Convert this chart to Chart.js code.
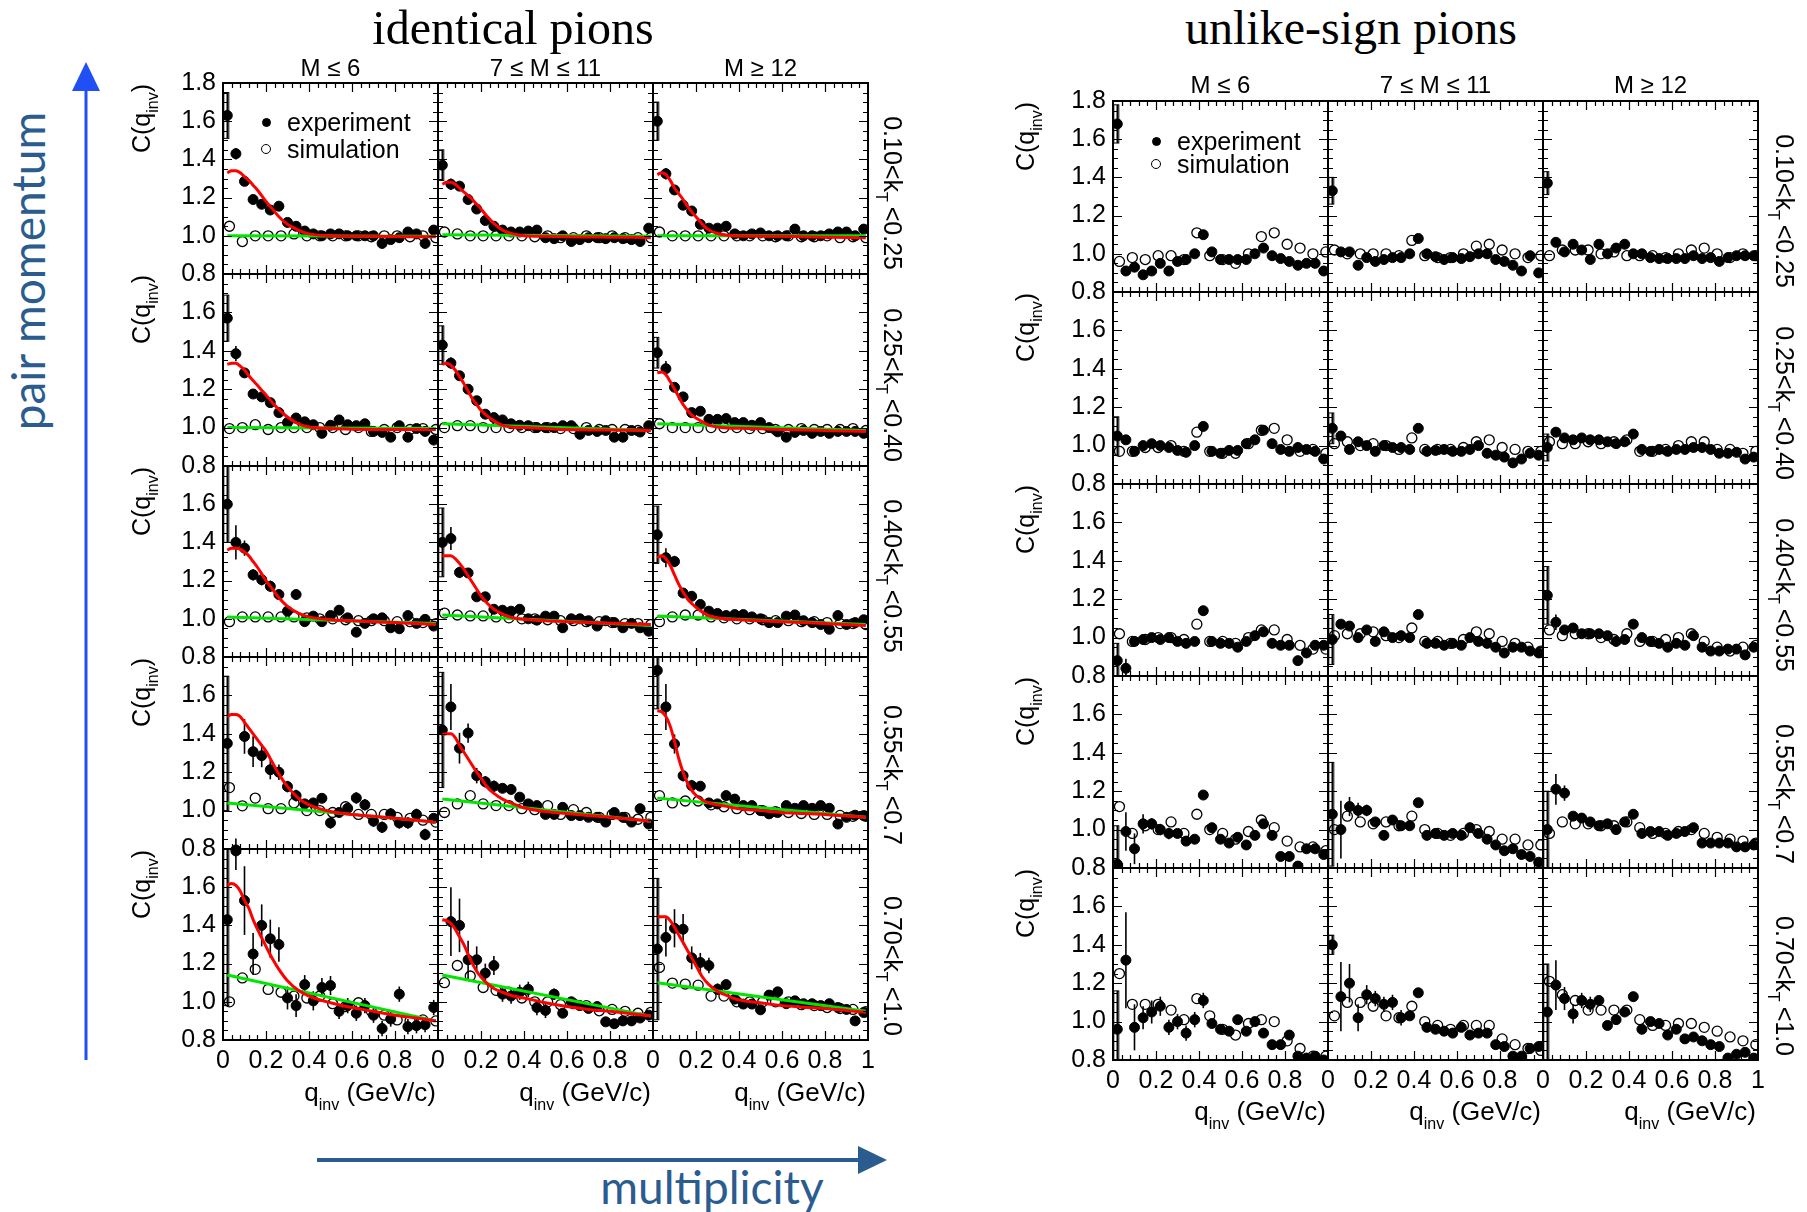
<!DOCTYPE html>
<html>
<head>
<meta charset="utf-8">
<script src="https://cdn.jsdelivr.net/npm/chart.js@4.4.1/dist/chart.umd.min.js"></script>
<style>
    body { margin: 0; background: #fff; width: 1807px; height: 1212px; overflow: hidden; position: relative;
           font-family: "Liberation Sans", Arial, sans-serif; }
    canvas { position: absolute; }
    .t { position: absolute; white-space: nowrap; color: #000; }
    .sb { position: relative; font-size: 16px; }
    .dot { position: absolute; border-radius: 50%; box-sizing: border-box; }
</style>
</head>
<body>
<svg width="1807" height="1212" style="position:absolute;left:0;top:0">
    <line x1="86" y1="1060" x2="86" y2="86" stroke="#1f4ff5" stroke-width="3"/>
    <polygon points="86,62 72,91 100,91" fill="#1f4ff5"/>
    <line x1="317" y1="1160" x2="862" y2="1160" stroke="#2b5c90" stroke-width="4"/>
    <polygon points="858,1146 887,1160 858,1174" fill="#2b5c90"/>
</svg>
<script>
// ============================================
// HBT correlation functions, identical vs unlike-sign pions
// ============================================

// ===== AXES / LABELS =====
const qExp = [0.02, 0.06, 0.10, 0.14, 0.18, 0.22, 0.26, 0.30, 0.34, 0.38, 0.42, 0.46, 0.50,
              0.54, 0.58, 0.62, 0.66, 0.70, 0.74, 0.78, 0.82, 0.86, 0.90, 0.94, 0.98];
const qSim = [0.03, 0.09, 0.15, 0.21, 0.27, 0.33, 0.39, 0.45, 0.51, 0.57, 0.63, 0.69, 0.75,
              0.81, 0.87, 0.93, 0.99];
const qFit = [0.02, 0.04, 0.06, 0.08, 0.10, 0.12, 0.14, 0.16, 0.18, 0.20, 0.23, 0.26, 0.30,
              0.35, 0.40, 0.50, 0.60, 0.70, 0.80, 0.90, 0.99];
const qLine = [0.02, 0.99];

const multClasses = ['M ≤ 6', '7 ≤ M ≤ 11', 'M ≥ 12'];
const ktBins = [['0.10', '0.25'], ['0.25', '0.40'], ['0.40', '0.55'], ['0.55', '0.7'], ['0.70', '1.0']];
const yTickText = ['0.8', '1.0', '1.2', '1.4', '1.6', '1.8'];
const xTickText = ['0', '0.2', '0.4', '0.6', '0.8', '1'];

// ===== IDENTICAL PIONS (rows: kT bins, cols: multiplicity) =====
const idExp = [
    [[1.63, 1.43, 1.285, 1.19, 1.165, 1.135, 1.155, 1.07, 1.05, 1.025, 1.01, 1.0, 1.01, 1.01, 1.0, 1.0, 1.0, 1.0, 0.96, 0.98, 0.99, 1.02, 1.01, 0.96, 1.03],
     [1.37, 1.27, 1.26, 1.19, 1.14, 1.08, 1.05, 1.03, 1.02, 1.02, 1.025, 1.03, 0.99, 0.985, 1.0, 0.97, 0.98, 0.99, 0.99, 0.985, 0.99, 0.985, 0.98, 0.97, 1.04],
     [1.60, 1.325, 1.24, 1.16, 1.13, 1.06, 1.04, 1.04, 1.05, 1.01, 1.0, 1.01, 1.015, 1.0, 1.0, 1.0, 1.035, 1.0, 1.0, 1.0, 1.01, 1.02, 1.02, 1.0, 1.035]],
    [[1.57, 1.385, 1.285, 1.175, 1.16, 1.13, 1.078, 1.026, 1.05, 1.03, 1.015, 0.97, 1.012, 1.04, 1.015, 1.01, 1.02, 0.98, 0.975, 0.95, 1.01, 0.95, 0.995, 0.98, 0.935],
     [1.43, 1.336, 1.27, 1.2, 1.14, 1.07, 1.052, 1.04, 1.02, 1.012, 1.01, 1.0, 1.0, 1.0, 1.01, 1.01, 0.965, 0.985, 0.98, 0.985, 0.95, 0.95, 0.985, 0.977, 1.01],
     [1.39, 1.307, 1.21, 1.16, 1.078, 1.085, 1.043, 1.043, 1.047, 1.026, 1.026, 1.012, 1.026, 1.0, 0.978, 0.95, 0.975, 0.985, 0.97, 0.98, 0.97, 0.98, 0.98, 0.98, 0.97]],
    [[1.60, 1.40, 1.37, 1.23, 1.205, 1.17, 1.127, 1.04, 1.127, 0.985, 1.014, 0.985, 1.017, 1.045, 1.005, 0.93, 0.976, 1.0, 1.005, 0.953, 0.948, 1.017, 0.976, 0.997, 0.962],
     [1.40, 1.42, 1.243, 1.24, 1.115, 1.115, 1.05, 1.045, 1.04, 1.05, 1.0, 0.993, 1.014, 1.014, 0.953, 1.0, 1.0, 0.99, 0.962, 0.99, 0.98, 0.953, 0.976, 0.953, 0.935],
     [1.44, 1.32, 1.30, 1.135, 1.118, 1.075, 1.04, 1.028, 1.017, 1.022, 1.022, 1.01, 1.0, 0.98, 0.98, 1.014, 1.02, 0.99, 0.98, 0.97, 0.945, 1.017, 0.97, 0.98, 0.995]],
    [[1.35, 0.795, 1.386, 1.307, 1.286, 1.213, 1.20, 1.125, 1.078, 1.035, 1.04, 1.064, 0.936, 0.99, 1.012, 1.066, 1.03, 0.945, 0.913, 0.983, 0.936, 0.936, 0.98, 0.875, 0.96],
     [1.42, 1.54, 1.325, 1.404, 1.182, 1.15, 1.127, 1.116, 1.11, 1.07, 1.035, 1.026, 0.98, 0.98, 1.017, 0.974, 0.974, 0.965, 0.965, 0.94, 0.99, 0.965, 0.94, 1.01, 0.93],
     [1.73, 1.54, 1.347, 1.182, 1.13, 1.127, 1.04, 1.035, 1.078, 1.06, 1.026, 1.026, 1.0, 0.983, 0.99, 1.026, 1.012, 1.026, 1.012, 1.026, 1.012, 0.93, 0.965, 0.976, 0.974]],
    [[1.43, 1.79, 1.53, 1.25, 1.40, 1.33, 1.30, 1.02, 0.98, 1.09, 1.005, 1.075, 1.085, 0.95, 0.98, 0.94, 0.98, 0.93, 0.86, 0.91, 1.04, 0.87, 0.875, 0.88, 0.97],
     [null, 1.42, 1.40, 1.22, 1.22, 1.15, 1.19, 1.04, 1.03, 1.05, 1.065, 0.97, 0.955, 1.04, 0.94, 1.0, 0.98, 0.965, 0.975, 0.895, 0.885, 0.90, 0.90, 0.915, 0.93],
     [1.276, 1.337, 1.385, 1.38, 1.23, 1.206, 1.19, 1.066, 1.09, 1.014, 0.988, 0.988, 0.958, 1.035, 1.052, 0.99, 1.005, 0.99, 0.99, 0.98, 0.99, 0.97, 0.96, 0.90, 0.944]]
];
const idExpErr = [
    [[0.12, 0.03, 0.02], [0.08, 0.03, 0.02], [0.10, 0.03]],
    [[0.12, 0.04, 0.02], [0.10, 0.03], [0.08, 0.04]],
    [[0.20, 0.09, 0.04, 0.03, 0.03, 0.03], [0.18, 0.06, 0.03], [0.15, 0.05, 0.03]],
    [[0.35, 0.06, 0.09, 0.08, 0.06, 0.05, 0.04, 0.03, 0.03, 0.02, 0.02, 0.02, 0.03, 0.02, 0.02, 0.03, 0.03, 0.03, 0.03, 0.03, 0.03, 0.03, 0.03, 0.03],
     [0.30, 0.12, 0.08, 0.05, 0.04, 0.03, 0.03, 0.02, 0.02],
     [0.20, 0.12, 0.05, 0.03, 0.03]],
    [[0.45, 0.10, 0.18, 0.11, 0.11, 0.10, 0.09, 0.06, 0.06, 0.05, 0.05, 0.05, 0.05, 0.04, 0.04, 0.04, 0.04, 0.04, 0.04, 0.04, 0.04, 0.04, 0.04, 0.04, 0.04],
     [0.30, 0.18, 0.14, 0.10, 0.07, 0.05, 0.05, 0.04, 0.04, 0.04, 0.04, 0.04, 0.04, 0.03],
     [0.37, 0.10, 0.10, 0.08, 0.06, 0.05, 0.04, 0.03]]
];
const idSim = [
    [[1.05, 0.97, 1.0, 1.0, 1.0, 1.01, 1.0, 1.0, 1.0, 1.0, 1.0, 0.995, 1.0, 1.0, 0.995, 1.0, 0.99],
     [1.02, 1.01, 1.0, 1.0, 1.0, 1.0, 1.0, 0.995, 1.0, 0.99, 0.99, 1.0, 0.99, 1.0, 0.99, 0.99, 0.99],
     [1.02, 1.0, 1.0, 1.0, 1.0, 1.0, 1.0, 1.0, 1.0, 0.995, 1.0, 0.995, 0.995, 1.0, 0.99, 0.995, 0.99]],
    [[0.995, 1.0, 1.015, 0.99, 1.0, 1.0, 1.0, 1.0, 1.0, 0.99, 1.0, 0.98, 0.99, 1.0, 0.99, 0.995, 0.99],
     [1.0, 1.01, 1.01, 1.0, 1.0, 1.0, 1.0, 1.0, 1.0, 0.995, 0.995, 1.0, 0.99, 0.99, 0.99, 0.985, 0.995],
     [1.02, 1.0, 1.0, 1.0, 1.0, 1.0, 1.0, 0.995, 0.995, 0.99, 0.99, 0.995, 0.99, 0.99, 0.99, 0.995, 0.985]],
    [[0.985, 1.01, 1.01, 1.01, 1.01, 1.01, 1.005, 1.0, 1.0, 0.995, 0.99, 0.99, 0.99, 0.985, 0.985, 0.98, 0.975],
     [1.03, 1.02, 1.015, 1.015, 1.01, 1.005, 1.0, 1.0, 0.995, 0.99, 0.99, 0.985, 0.985, 0.98, 0.975, 0.975, 0.97],
     [0.985, 1.01, 1.02, 1.02, 1.01, 1.005, 1.0, 1.0, 0.995, 0.99, 0.99, 0.985, 0.985, 0.98, 0.975, 0.975, 0.97]],
    [[1.12, 1.025, 1.065, 1.01, 1.01, 1.04, 1.0, 1.0, 0.99, 1.02, 0.98, 0.98, 0.98, 0.965, 0.96, 0.95, 0.94],
     [0.99, 1.035, 1.078, 1.035, 1.026, 1.026, 1.01, 1.005, 1.026, 0.98, 1.005, 0.99, 0.965, 0.98, 0.965, 0.955, 0.965],
     [1.078, 1.04, 1.05, 1.05, 1.03, 1.02, 1.01, 1.005, 1.0, 0.995, 0.99, 0.985, 0.98, 0.98, 0.975, 0.97, 0.97]],
    [[1.0, 1.125, 1.17, 1.065, 1.05, 1.03, 1.02, 1.03, 0.99, 0.975, 0.995, 0.95, 0.93, 0.905, 0.90, 0.905, 0.90],
     [1.1, 1.19, 1.135, 1.075, 1.06, 1.05, 1.02, 1.0, 1.0, 0.985, 0.99, 0.98, 0.953, 0.96, 0.95, 0.94, 0.945],
     [1.18, 1.098, 1.093, 1.087, 1.03, 1.03, 1.0, 1.0, 1.0, 1.0, 1.0, 0.985, 0.98, 0.97, 0.965, 0.96, 0.948]]
];
// red: fit to experiment, sampled at qFit
const idFitRed = [
    [[1.33, 1.34, 1.34, 1.33, 1.31, 1.29, 1.265, 1.24, 1.21, 1.18, 1.14, 1.10, 1.06, 1.03, 1.01, 1.0, 0.998, 0.997, 0.996, 0.995, 0.995],
     [1.27, 1.28, 1.28, 1.27, 1.25, 1.23, 1.21, 1.19, 1.165, 1.14, 1.10, 1.065, 1.03, 1.01, 1.0, 0.997, 0.995, 0.994, 0.993, 0.992, 0.99],
     [1.32, 1.33, 1.32, 1.29, 1.25, 1.22, 1.19, 1.155, 1.125, 1.10, 1.06, 1.03, 1.012, 1.003, 1.0, 0.998, 0.997, 0.995, 0.993, 0.991, 0.99]],
    [[1.33, 1.335, 1.335, 1.32, 1.30, 1.27, 1.245, 1.22, 1.195, 1.17, 1.13, 1.095, 1.055, 1.02, 1.003, 0.995, 0.992, 0.99, 0.99, 0.99, 0.99],
     [1.33, 1.335, 1.325, 1.30, 1.265, 1.23, 1.19, 1.15, 1.12, 1.09, 1.06, 1.035, 1.012, 1.002, 1.0, 0.995, 0.99, 0.988, 0.987, 0.986, 0.985],
     [1.285, 1.29, 1.275, 1.24, 1.20, 1.16, 1.12, 1.09, 1.065, 1.05, 1.03, 1.013, 1.003, 0.998, 0.996, 0.994, 0.99, 0.988, 0.985, 0.982, 0.98]],
    [[1.36, 1.37, 1.37, 1.365, 1.35, 1.33, 1.30, 1.27, 1.235, 1.20, 1.155, 1.11, 1.065, 1.03, 1.01, 0.995, 0.99, 0.985, 0.98, 0.975, 0.97],
     [1.33, 1.33, 1.33, 1.315, 1.29, 1.26, 1.225, 1.19, 1.155, 1.12, 1.08, 1.05, 1.025, 1.005, 0.998, 0.99, 0.985, 0.98, 0.977, 0.973, 0.97],
     [1.32, 1.33, 1.315, 1.28, 1.23, 1.18, 1.14, 1.105, 1.08, 1.06, 1.035, 1.017, 1.005, 0.998, 0.995, 0.99, 0.985, 0.98, 0.975, 0.97, 0.965]],
    [[1.49, 1.50, 1.50, 1.49, 1.46, 1.43, 1.40, 1.37, 1.34, 1.31, 1.25, 1.19, 1.125, 1.065, 1.03, 0.995, 0.98, 0.97, 0.96, 0.95, 0.94],
     [1.395, 1.40, 1.40, 1.38, 1.34, 1.305, 1.27, 1.235, 1.20, 1.17, 1.12, 1.09, 1.06, 1.035, 1.015, 0.995, 0.985, 0.975, 0.965, 0.955, 0.945],
     [1.52, 1.515, 1.49, 1.44, 1.36, 1.27, 1.20, 1.145, 1.105, 1.08, 1.055, 1.04, 1.03, 1.02, 1.01, 1.0, 0.99, 0.985, 0.98, 0.972, 0.965]],
    [[1.61, 1.62, 1.61, 1.58, 1.53, 1.49, 1.43, 1.38, 1.335, 1.29, 1.225, 1.17, 1.11, 1.06, 1.03, 0.995, 0.97, 0.95, 0.93, 0.915, 0.90],
     [1.43, 1.425, 1.41, 1.38, 1.34, 1.30, 1.25, 1.20, 1.16, 1.13, 1.095, 1.07, 1.05, 1.03, 1.02, 0.995, 0.975, 0.96, 0.95, 0.938, 0.925],
     [1.445, 1.445, 1.445, 1.425, 1.39, 1.35, 1.31, 1.27, 1.23, 1.19, 1.13, 1.09, 1.055, 1.03, 1.01, 0.995, 0.98, 0.972, 0.965, 0.955, 0.945]]
];
// green: linear baseline fit to simulation, values at qLine
const idFitGreen = [
    [[1.0, 0.998], [1.005, 0.998], [1.0, 1.0]],
    [[1.0, 0.995], [1.02, 0.985], [1.02, 0.985]],
    [[1.01, 0.975], [1.02, 0.965], [1.015, 0.97]],
    [[1.04, 0.94], [1.06, 0.945], [1.065, 0.965]],
    [[1.14, 0.90], [1.14, 0.925], [1.10, 0.95]]
];

// ===== UNLIKE-SIGN PIONS =====
const usExp = [
    [[1.68, 0.91, 0.93, 0.89, 0.91, 0.95, 0.91, 0.96, 0.97, 1.0, 1.10, 1.01, 0.97, 0.97, 0.97, 0.97, 1.0, 1.03, 0.99, 0.975, 0.96, 0.94, 0.95, 0.95, 0.91],
     [1.33, 1.01, 1.01, 0.94, 0.98, 0.96, 0.97, 0.98, 0.98, 1.0, 1.08, 1.0, 0.985, 0.97, 0.98, 0.975, 0.985, 1.0, 1.0, 0.97, 0.96, 0.94, 0.91, 0.99, 0.90],
     [1.37, 1.06, 1.01, 1.05, 1.02, 0.97, 1.05, 1.0, 1.03, 1.05, 1.0, 1.0, 0.98, 0.975, 0.975, 0.975, 0.975, 0.99, 0.975, 0.98, 0.96, 0.98, 0.99, 0.99, 0.99]],
    [[1.05, 1.03, 0.97, 1.0, 1.01, 1.0, 0.99, 0.975, 0.965, 1.0, 1.10, 0.97, 0.96, 0.975, 0.975, 1.01, 1.03, 1.08, 1.01, 0.98, 0.97, 0.99, 0.98, 0.97, 0.93],
     [1.09, 1.05, 0.98, 1.02, 1.0, 0.97, 1.0, 0.99, 0.99, 0.98, 1.09, 0.97, 0.975, 0.98, 0.97, 0.97, 0.98, 1.0, 0.96, 0.95, 0.94, 0.91, 0.93, 0.96, 0.95],
     [0.99, 1.07, 1.04, 1.03, 1.04, 1.03, 1.03, 1.02, 1.01, 1.02, 1.06, 0.98, 0.97, 0.98, 0.97, 0.98, 0.98, 0.99, 0.99, 0.98, 0.96, 0.96, 0.965, 0.93, 0.94]],
    [[0.88, 0.84, 0.98, 0.99, 1.0, 0.99, 1.0, 0.98, 0.97, 0.98, 1.14, 0.98, 0.97, 0.97, 0.95, 0.98, 1.01, 1.03, 0.97, 0.96, 0.96, 0.88, 0.92, 0.96, 0.96],
     [0.99, 1.07, 1.06, 1.0, 1.04, 0.98, 1.03, 1.0, 1.01, 1.0, 1.12, 0.97, 0.97, 0.96, 0.97, 0.96, 1.0, 0.98, 0.97, 0.95, 0.92, 0.95, 0.95, 0.93, 0.92],
     [1.22, 1.08, 1.04, 1.05, 1.02, 1.02, 1.02, 1.01, 0.98, 0.99, 1.07, 1.0, 0.98, 0.97, 0.95, 0.97, 0.96, 1.01, 0.95, 0.93, 0.93, 0.94, 0.94, 0.91, 0.95]],
    [[0.82, 0.99, 0.90, 1.03, 1.03, 1.0, 0.98, 0.98, 0.94, 0.95, 1.18, 1.01, 0.95, 0.93, 0.96, 0.92, 0.97, 1.03, 0.97, 0.86, 0.86, 0.81, 0.90, 0.90, 0.87],
     [1.08, 1.0, 1.12, 1.10, 1.10, 1.04, 0.97, 1.05, 1.02, 1.02, 1.14, 0.97, 0.98, 0.97, 0.98, 0.97, 1.01, 0.98, 0.95, 0.92, 0.89, 0.90, 0.87, 0.86, 0.83],
     [1.0, 1.21, 1.19, 1.07, 1.06, 1.04, 1.02, 1.03, 1.0, 1.04, 1.08, 0.98, 0.99, 0.99, 0.97, 0.98, 0.99, 1.01, 0.93, 0.93, 0.93, 0.93, 0.91, 0.91, 0.92]],
    [[0.96, 1.32, 0.97, 1.02, 1.05, 1.08, 0.97, 1.0, 0.94, 1.01, 1.11, 0.99, 0.96, 0.95, 1.01, 0.95, 1.0, 0.94, 0.88, 0.88, 0.93, 0.82, 0.81, 0.82, 0.80],
     [1.40, 1.13, 1.20, 1.02, 1.14, 1.12, 1.09, 1.10, 1.02, 1.03, 1.15, 0.97, 0.96, 0.95, 0.94, 0.97, 0.93, 0.94, 0.94, 0.88, 0.87, 0.82, 0.82, 0.86, 0.87],
     [1.05, 1.19, 1.12, 1.04, 1.11, 1.09, 1.11, 0.98, 1.01, 1.05, 1.13, 0.96, 1.0, 0.99, 0.93, 0.96, 0.91, 0.92, 0.90, 0.88, 0.87, 0.81, 0.83, 0.84, 0.81]]
];
const usExpErr = [
    [[0.10], [0.07], [0.06]],
    [[0.10], [0.08], [0.07]],
    [[0.09, 0.05], [0.13], [0.15, 0.04]],
    [[0.20, 0.10, 0.08, 0.05, 0.03, 0.03, 0.03], [0.27, 0.15, 0.05, 0.04, 0.03], [0.20, 0.08, 0.04]],
    [[0.20, 0.25, 0.12, 0.06, 0.06, 0.05, 0.04, 0.04, 0.04, 0.04, 0.04], [0.05, 0.18, 0.10, 0.07, 0.05, 0.04, 0.04, 0.04, 0.04], [0.25, 0.13, 0.06, 0.05, 0.04, 0.04]]
];
const usSim = [
    [[0.96, 0.98, 0.97, 0.99, 0.99, 0.97, 1.11, 0.99, 0.97, 0.95, 1.0, 1.09, 1.11, 1.05, 1.03, 1.0, 1.01],
     [1.02, 1.0, 1.0, 1.0, 1.0, 0.99, 1.07, 0.99, 0.98, 0.98, 1.0, 1.04, 1.05, 1.02, 1.0, 0.98, 0.99],
     [0.99, 1.02, 1.02, 1.02, 1.0, 1.01, 0.99, 0.99, 0.99, 0.98, 1.0, 1.02, 1.03, 1.0, 0.98, 1.0, 0.99]],
    [[0.97, 0.97, 0.99, 0.99, 1.0, 0.97, 1.07, 0.97, 0.96, 0.96, 1.01, 1.08, 1.09, 1.03, 0.97, 0.98, 0.96],
     [1.01, 1.02, 1.0, 1.01, 1.0, 0.98, 1.04, 0.98, 0.98, 0.98, 0.99, 1.02, 1.03, 0.99, 0.98, 0.97, 0.97],
     [1.02, 1.01, 1.01, 1.02, 1.01, 1.02, 1.03, 0.97, 0.97, 0.98, 1.0, 1.02, 1.02, 0.98, 0.98, 0.96, 0.97]],
    [[1.02, 0.98, 0.99, 1.0, 1.0, 0.99, 1.07, 0.98, 0.98, 0.97, 1.0, 1.04, 1.04, 0.99, 0.96, 0.94, 0.94],
     [1.01, 1.02, 1.02, 1.03, 1.01, 1.0, 1.05, 0.98, 0.98, 0.97, 0.99, 1.03, 1.02, 0.98, 0.97, 0.95, 0.93],
     [1.04, 1.01, 1.02, 1.02, 1.0, 0.99, 1.02, 0.98, 0.98, 0.99, 1.0, 1.02, 0.98, 0.95, 0.93, 0.95, 0.96]],
    [[1.12, 0.98, 1.02, 1.0, 1.04, 0.98, 1.08, 1.0, 0.98, 0.95, 0.99, 1.05, 1.01, 0.94, 0.91, 0.91, 0.89],
     [1.0, 1.07, 1.04, 1.03, 1.04, 1.02, 1.07, 1.0, 0.98, 0.97, 0.98, 1.0, 0.99, 0.95, 0.95, 0.92, 0.92],
     [0.98, 1.04, 1.03, 1.03, 1.02, 1.02, 1.04, 1.01, 0.98, 0.98, 0.99, 1.0, 0.98, 0.96, 0.95, 0.94, 0.93]],
    [[1.25, 1.09, 1.09, 1.09, 1.06, 1.01, 1.12, 1.03, 0.96, 0.93, 0.99, 1.01, 1.0, 0.90, 0.86, 0.82, 0.82],
     [1.03, 1.10, 1.10, 1.08, 1.03, 1.02, 1.08, 1.0, 0.98, 0.96, 0.98, 0.98, 0.98, 0.91, 0.88, 0.86, 0.85],
     [1.21, 1.14, 1.11, 1.06, 1.06, 1.06, 1.06, 1.01, 0.98, 0.98, 0.99, 0.99, 0.97, 0.95, 0.92, 0.90, 0.88]]
];

// ===== LAYOUT =====
const GRIDS = [
    { left: 223, top: 83, w: 215, h: 191.4, exp: idExp, err: idExpErr, sim: idSim, red: idFitRed, green: idFitGreen,
      title: 'identical pions', titleX: 513, headY: 56, yTitleX: 143, ktX: 891, xTitleY: 1078,
      legend: { x: 266, y: [122, 149] } },
    { left: 1113, top: 100.5, w: 215, h: 191.9, exp: usExp, err: usExpErr, sim: usSim,
      title: 'unlike-sign pions', titleX: 1351, headY: 73, yTitleX: 1027, ktX: 1783, xTitleY: 1097,
      legend: { x: 1156, y: [141, 164] } }
];
const PAD_L = 70, PAD_R = 20, PAD_T = 26, PAD_B = 45;
const FONT = '"Liberation Sans", Arial, sans-serif';

// ===== PLUGINS =====
const errorBars = {
    id: 'errorBars',
    beforeDatasetsDraw(chart) {
        const { ctx, chartArea: a, scales: { x, y } } = chart;
        ctx.save();
        ctx.beginPath();
        ctx.rect(a.left, a.top, a.right - a.left, a.bottom - a.top);
        ctx.clip();
        ctx.strokeStyle = '#000';
        chart.data.datasets.forEach(ds => {
            if (!ds.errors) return;
            ds.data.forEach((p, i) => {
                const e = ds.errors[i];
                if (p.y == null || !e) return;
                const px = x.getPixelForValue(p.x);
                const y1 = y.getPixelForValue(p.y + e);
                const y2 = y.getPixelForValue(p.y - e);
                // first bin also carries a thin systematic box
                ctx.lineWidth = 1;
                if (i === 0) ctx.strokeRect(px - 3.5, y1, 5, y2 - y1);
                ctx.lineWidth = 1.6;
                ctx.beginPath();
                ctx.moveTo(px, y1);
                ctx.lineTo(px, y2);
                ctx.stroke();
            });
        });
        ctx.restore();
    }
};

const frameTicks = {
    id: 'frameTicks',
    afterDatasetsDraw(chart) {
        const { ctx, chartArea: a, scales: { x, y } } = chart;
        ctx.save();
        ctx.strokeStyle = '#000';
        ctx.lineWidth = 1.2;
        ctx.beginPath();
        for (let k = 1; k < 25; k++) {
            const p = Math.round(x.getPixelForValue(k * 0.04)) + 0.5;
            const len = (k % 5 === 0) ? 9 : 5;
            ctx.moveTo(p, a.bottom); ctx.lineTo(p, a.bottom - len);
            ctx.moveTo(p, a.top); ctx.lineTo(p, a.top + len);
        }
        for (let k = 1; k < 20; k++) {
            const p = Math.round(y.getPixelForValue(0.8 + k * 0.05)) + 0.5;
            const len = (k % 4 === 0) ? 9 : 5;
            ctx.moveTo(a.left, p); ctx.lineTo(a.left + len, p);
            ctx.moveTo(a.right, p); ctx.lineTo(a.right - len, p);
        }
        ctx.stroke();
        ctx.lineWidth = 2;
        ctx.strokeRect(a.left, a.top, a.right - a.left, a.bottom - a.top);
        ctx.restore();
    }
};

// ===== PANEL =====
function points(xs, ys) {
    return ys.map((v, i) => ({ x: xs[i], y: v }));
}

function createPanel(g, r, c) {
    const px = Math.round(g.left + c * g.w);
    const pw = Math.round(g.left + (c + 1) * g.w) - px;
    const py = Math.round(g.top + r * g.h);
    const ph = Math.round(g.top + (r + 1) * g.h) - py;

    const canvas = document.createElement('canvas');
    canvas.width = pw + PAD_L + PAD_R;
    canvas.height = ph + PAD_T + PAD_B;
    canvas.style.left = (px - PAD_L) + 'px';
    canvas.style.top = (py - PAD_T) + 'px';
    document.body.appendChild(canvas);

    const datasets = [];
    if (g.red) {
        datasets.push({
            data: points(qFit, g.red[r][c]), showLine: true, pointRadius: 0,
            borderColor: '#ff0000', borderWidth: 3, cubicInterpolationMode: 'monotone', order: 0
        });
        datasets.push({
            data: points(qLine, g.green[r][c]), showLine: true, pointRadius: 0,
            borderColor: '#00e600', borderWidth: 3, order: 1
        });
    }
    datasets.push({
        data: points(qExp, g.exp[r][c]), errors: g.err[r][c], pointRadius: 5,
        backgroundColor: '#000', borderColor: '#000', borderWidth: 1, order: 2
    });
    datasets.push({
        data: points(qSim, g.sim[r][c]), pointRadius: 5,
        backgroundColor: 'rgba(0,0,0,0)', borderColor: '#000', borderWidth: 1.3, order: 3
    });

    new Chart(canvas, {
        type: 'scatter',
        data: { datasets },
        options: {
            responsive: false,
            animation: false,
            events: [],
            layout: { padding: { top: PAD_T, right: PAD_R, left: 0, bottom: 0 } },
            plugins: { legend: { display: false }, tooltip: { enabled: false } },
            scales: {
                x: {
                    type: 'linear', min: 0, max: 1,
                    grid: { display: false, drawTicks: false }, border: { display: false },
                    ticks: {
                        display: r === 4, stepSize: 0.2, autoSkip: false, maxRotation: 0, padding: 6,
                        color: '#000', font: { family: FONT, size: 25 },
                        callback: (v, i) => (i === 5 && c < 2) ? '' : xTickText[i]
                    },
                    afterFit: s => { s.height = PAD_B; }
                },
                y: {
                    type: 'linear', min: 0.8, max: 1.8,
                    grid: { display: false, drawTicks: false }, border: { display: false },
                    ticks: {
                        display: c === 0, stepSize: 0.2, autoSkip: false, padding: 7,
                        color: '#000', font: { family: FONT, size: 25 },
                        callback: (v, i) => (i === 5 && r > 0) ? '' : yTickText[i]
                    },
                    afterFit: s => { s.width = PAD_L; }
                }
            }
        },
        plugins: [errorBars, frameTicks]
    });
}

// ===== TEXT =====
function addText(html, css) {
    const d = document.createElement('div');
    d.className = 't';
    d.innerHTML = html;
    Object.assign(d.style, css);
    document.body.appendChild(d);
    return d;
}

function addDot(cx, cy, rad, filled) {
    const d = document.createElement('div');
    d.className = 'dot';
    Object.assign(d.style, {
        left: (cx - rad) + 'px', top: (cy - rad) + 'px', width: 2 * rad + 'px', height: 2 * rad + 'px',
        background: filled ? '#000' : 'transparent', border: '1.3px solid #000'
    });
    document.body.appendChild(d);
}

function drawGrid(g) {
    for (let r = 0; r < 5; r++) {
        for (let c = 0; c < 3; c++) createPanel(g, r, c);
    }
    addText(g.title, { left: g.titleX + 'px', top: '4px', transform: 'translateX(-50%)',
        fontFamily: '"Liberation Serif", "Times New Roman", serif', fontSize: '48px', lineHeight: '48px' });
    multClasses.forEach((m, c) => {
        addText(m, { left: (g.left + (c + 0.5) * g.w) + 'px', top: g.headY + 'px', transform: 'translateX(-50%)',
            fontSize: '24px', lineHeight: '24px' });
        addText('q<span class="sb" style="top:9px">inv</span> (GeV/c)', {
            left: (g.left + (c + 1) * g.w - 2) + 'px', top: g.xTitleY + 'px', transform: 'translateX(-100%)',
            fontSize: '26px', lineHeight: '28px' });
    });
    ktBins.forEach((kt, r) => {
        const rowTop = g.top + r * g.h;
        addText('C(q<span class="sb" style="top:8px">inv</span>)', {
            left: g.yTitleX + 'px', top: (rowTop + 1) + 'px', transformOrigin: '100% 50%',
            transform: 'translate(-100%, -50%) rotate(-90deg)', fontSize: '25px', lineHeight: '28px' });
        addText(kt[0] + '&lt;k<span class="sb" style="top:8px">T</span>&thinsp;&lt;' + kt[1], {
            left: g.ktX + 'px', top: (rowTop + g.h - 4) + 'px', transformOrigin: '100% 50%',
            transform: 'translate(-100%, -50%) rotate(90deg)', fontSize: '25px', lineHeight: '28px' });
    });
    addDot(g.legend.x, g.legend.y[0], 4.5, true);
    addDot(g.legend.x, g.legend.y[1], 5, false);
    addText('experiment', { left: (g.legend.x + 21) + 'px', top: (g.legend.y[0] - 14) + 'px', fontSize: '25px', lineHeight: '28px' });
    addText('simulation', { left: (g.legend.x + 21) + 'px', top: (g.legend.y[1] - 14) + 'px', fontSize: '25px', lineHeight: '28px' });
}

GRIDS.forEach(drawGrid);

addText('pair momentum', { left: '28px', top: '271px', transform: 'translate(-50%, -50%) rotate(-90deg)',
    fontFamily: 'Lato, "Open Sans", sans-serif', fontSize: '46px', lineHeight: '46px', color: '#2b5c90' });
addText('multiplicity', { left: '712px', top: '1164px', transform: 'translateX(-50%)',
    fontFamily: 'Lato, "Open Sans", sans-serif', fontSize: '46px', lineHeight: '46px', color: '#2b5c90' });
</script>
</body>
</html>
